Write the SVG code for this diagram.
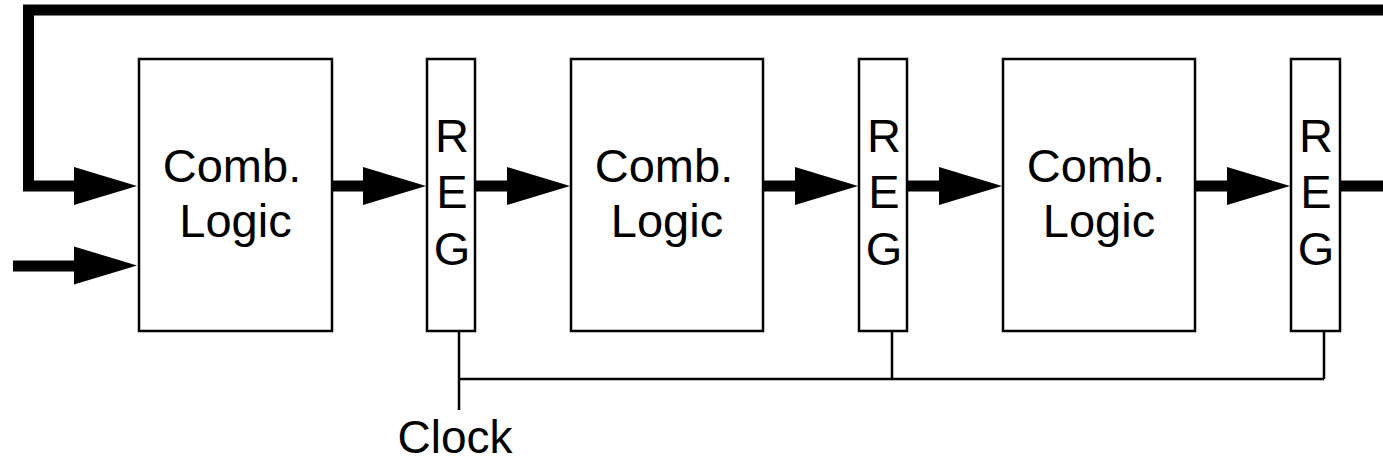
<svg xmlns="http://www.w3.org/2000/svg" width="1383" height="463" viewBox="0 0 1383 463">
  <style>
    .box { fill: #fff; stroke: #000; stroke-width: 2.5; }
    .lbl { font-family: "Liberation Sans", Arial, sans-serif; font-size: 47px; fill: #000; text-anchor: middle; }
    .bus { fill: none; stroke: #000; stroke-width: 11; }
    .clk { fill: none; stroke: #000; stroke-width: 2.5; }
  </style>
  <defs>
    <!-- filled arrowhead, tip at origin pointing right -->
    <path id="ah" d="M0,0 L-63,-19 L-63,19 Z" fill="#000"/>
  </defs>
  <rect width="1383" height="463" fill="#fff"/>

  <g id="connectors">
    <!-- feedback loop from the last register back to the first logic block -->
    <path class="bus" d="M1383,10 H28.5 V186 H76" stroke-linejoin="miter"/>
    <!-- primary input -->
    <path class="bus" d="M13,266 H76"/>
    <!-- datapath -->
    <path class="bus" d="M332,186 H366"/>
    <path class="bus" d="M475,186 H509"/>
    <path class="bus" d="M763,186 H797"/>
    <path class="bus" d="M907,186 H941"/>
    <path class="bus" d="M1195,186 H1229"/>
    <path class="bus" d="M1340,186 H1383"/>
    <use href="#ah" x="137" y="186"/>
    <use href="#ah" x="137" y="265.5"/>
    <use href="#ah" x="426" y="186"/>
    <use href="#ah" x="570" y="186"/>
    <use href="#ah" x="858" y="186"/>
    <use href="#ah" x="1002" y="186"/>
    <use href="#ah" x="1290" y="186"/>
    <!-- clock distribution -->
    <path class="clk" d="M459,331 V410 M459,379 H1324 M892,331 V379 M1324,331 V379"/>
  </g>

  <g id="logic1">
    <rect class="box" x="139" y="59" width="193" height="272"/>
    <text class="lbl" x="232" y="182">Comb.</text>
    <text class="lbl" x="235.5" y="237">Logic</text>
  </g>
  <g id="reg1">
    <rect class="box" x="427" y="59" width="48" height="272"/>
    <text class="lbl" x="452" y="152">R</text>
    <text class="lbl" x="452" y="208">E</text>
    <text class="lbl" x="452" y="265">G</text>
  </g>
  <g id="logic2">
    <rect class="box" x="571" y="59" width="192" height="272"/>
    <text class="lbl" x="664" y="182">Comb.</text>
    <text class="lbl" x="667" y="237">Logic</text>
  </g>
  <g id="reg2">
    <rect class="box" x="859" y="59" width="48" height="272"/>
    <text class="lbl" x="884" y="152">R</text>
    <text class="lbl" x="884" y="208">E</text>
    <text class="lbl" x="884" y="265">G</text>
  </g>
  <g id="logic3">
    <rect class="box" x="1003" y="59" width="192" height="272"/>
    <text class="lbl" x="1096" y="182">Comb.</text>
    <text class="lbl" x="1099" y="237">Logic</text>
  </g>
  <g id="reg3">
    <rect class="box" x="1291" y="59" width="49" height="272"/>
    <text class="lbl" x="1316" y="152">R</text>
    <text class="lbl" x="1316" y="208">E</text>
    <text class="lbl" x="1316" y="265">G</text>
  </g>
  <g id="clock">
    <text class="lbl" x="455" y="453" style="font-size:46px">Clock</text>
  </g>
</svg>
